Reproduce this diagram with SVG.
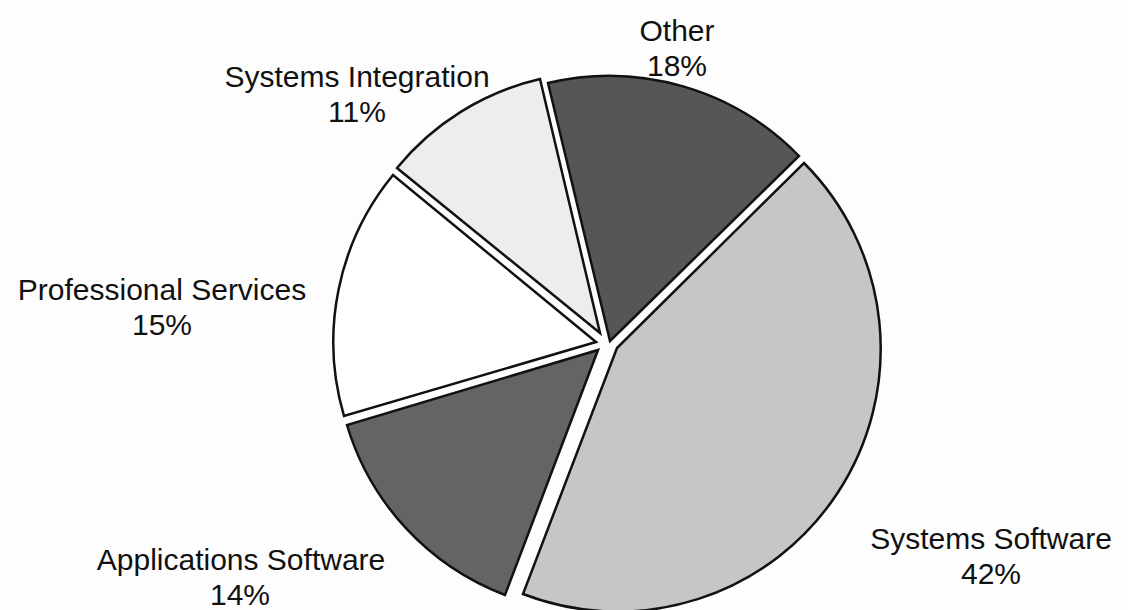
<svg xmlns="http://www.w3.org/2000/svg" width="1128" height="610" viewBox="0 0 1128 610">
<style>
.sl{stroke:#111;stroke-width:2.5;stroke-linejoin:miter}
.lb{font-family:"Liberation Sans",Arial,sans-serif;font-size:30px;fill:#111;text-anchor:middle}
</style>
<rect width="1128" height="610" fill="#fdfdfd"/>
<g id="systems-software">
<path class="sl" fill="#c6c6c6" d="M617,348 L804,163 A263,263 0 0 1 523,594 Z"/>
<text class="lb" x="991" y="549">Systems Software</text>
<text class="lb" x="991" y="584">42%</text>
</g>
<g id="applications-software">
<path class="sl" fill="#646464" d="M598,350 L505,595 A262,262 0 0 1 347,425 Z"/>
<text class="lb" x="241" y="570">Applications Software</text>
<text class="lb" x="240" y="605">14%</text>
</g>
<g id="professional-services">
<path class="sl" fill="#ffffff" d="M596,342 L344,416 A263,263 0 0 1 393,175 Z"/>
<text class="lb" x="162" y="300">Professional Services</text>
<text class="lb" x="162" y="335">15%</text>
</g>
<g id="systems-integration">
<path class="sl" fill="#ededed" d="M600,333 L397,168 A261,261 0 0 1 540,79 Z"/>
<text class="lb" x="357" y="87">Systems Integration</text>
<text class="lb" x="357" y="122">11%</text>
</g>
<g id="other">
<path class="sl" fill="#565656" d="M610,341 L548,83 A265,265 0 0 1 799,156 Z"/>
<text class="lb" x="677" y="41">Other</text>
<text class="lb" x="677" y="76">18%</text>
</g>
<g id="connectors"></g>
</svg>
